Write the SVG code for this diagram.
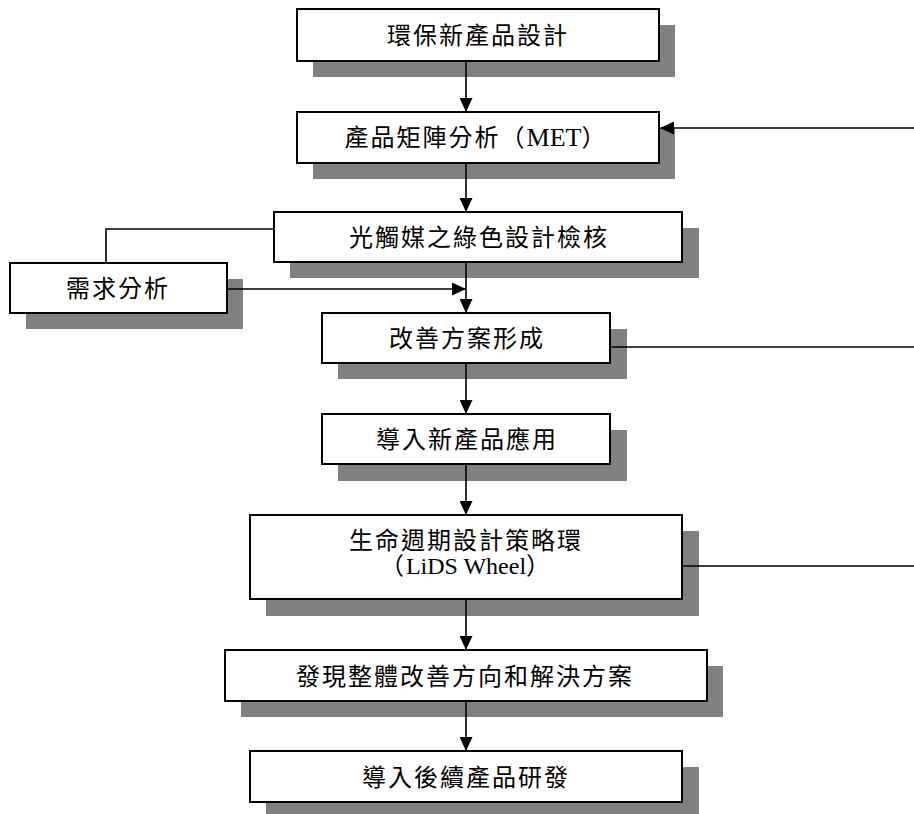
<svg xmlns="http://www.w3.org/2000/svg" width="914" height="814" viewBox="0 0 914 814">
<style>
.sh{fill:#808080;stroke:none}
.bx{fill:#ffffff;stroke:#000000;stroke-width:2}
.t{font-family:"Liberation Serif","Noto Sans CJK TC","Noto Sans CJK SC",serif;font-size:24px;letter-spacing:2px;fill:#000000;text-anchor:middle}
.lat{letter-spacing:0px}
.ln{fill:none;stroke:#000000;stroke-width:1.6}
</style>
<defs>
<marker id="ah" markerUnits="userSpaceOnUse" markerWidth="14" markerHeight="13" refX="14" refY="6.5" orient="auto">
<path d="M0,0 L14,6.5 L0,13 Z" fill="#000000"/>
</marker>
</defs>
<rect width="914" height="814" fill="#ffffff"/>
<g id="n1">
<rect class="sh" x="313" y="25" width="362" height="52"/>
<rect class="bx" x="297" y="9" width="362" height="52"/>
<text class="t" x="478" y="44">環保新產品設計</text>
</g>
<g id="n2">
<rect class="sh" x="313" y="128" width="362" height="51"/>
<rect class="bx" x="297" y="112" width="362" height="51"/>
<text class="t" x="476" y="146">產品矩陣分析（<tspan class="lat" font-size="26">MET</tspan>）</text>
</g>
<g id="n3">
<rect class="sh" x="290" y="228" width="409" height="50"/>
<rect class="bx" x="274" y="212" width="408" height="50"/>
<text class="t" x="479" y="246">光觸媒之綠色設計檢核</text>
</g>
<g id="n_req">
<rect class="sh" x="26" y="279" width="217" height="50"/>
<rect class="bx" x="10" y="263" width="217" height="50"/>
<text class="t" x="118" y="297">需求分析</text>
</g>
<g id="n4">
<rect class="sh" x="338" y="329" width="289" height="50"/>
<rect class="bx" x="322" y="313" width="288" height="50"/>
<text class="t" x="467" y="347">改善方案形成</text>
</g>
<g id="n5">
<rect class="sh" x="338" y="430" width="289" height="51"/>
<rect class="bx" x="322" y="414" width="288" height="50"/>
<text class="t" x="467" y="448">導入新產品應用</text>
</g>
<g id="n6">
<rect class="sh" x="266" y="531" width="433" height="85"/>
<rect class="bx" x="250" y="515" width="432" height="84"/>
<text class="t" x="466" y="549">生命週期設計策略環</text>
<text class="t" x="466" y="574">（<tspan class="lat">LiDS Wheel</tspan>）</text>
</g>
<g id="n7">
<rect class="sh" x="241" y="666" width="482" height="51"/>
<rect class="bx" x="225" y="650" width="482" height="51"/>
<text class="t" x="465" y="685">發現整體改善方向和解決方案</text>
</g>
<g id="n8">
<rect class="sh" x="266" y="767" width="433" height="51"/>
<rect class="bx" x="250" y="751" width="432" height="51"/>
<text class="t" x="466" y="786">導入後續產品研發</text>
</g>
<g id="connectors">
<line class="ln" x1="466" y1="61" x2="466" y2="112" marker-end="url(#ah)"/>
<line class="ln" x1="466" y1="163" x2="466" y2="212" marker-end="url(#ah)"/>
<line class="ln" x1="466" y1="263" x2="466" y2="313" marker-end="url(#ah)"/>
<line class="ln" x1="227" y1="289" x2="466" y2="289" marker-end="url(#ah)"/>
<polyline class="ln" points="274,229 106,229 106,263"/>
<line class="ln" x1="466" y1="363" x2="466" y2="414" marker-end="url(#ah)"/>
<line class="ln" x1="466" y1="464" x2="466" y2="515" marker-end="url(#ah)"/>
<line class="ln" x1="466" y1="599" x2="466" y2="650" marker-end="url(#ah)"/>
<line class="ln" x1="466" y1="701" x2="466" y2="751" marker-end="url(#ah)"/>
<line class="ln" x1="914" y1="128" x2="660" y2="128" marker-end="url(#ah)"/>
<line class="ln" x1="610" y1="347" x2="914" y2="347"/>
<line class="ln" x1="682" y1="566" x2="914" y2="566"/>
</g>
</svg>
